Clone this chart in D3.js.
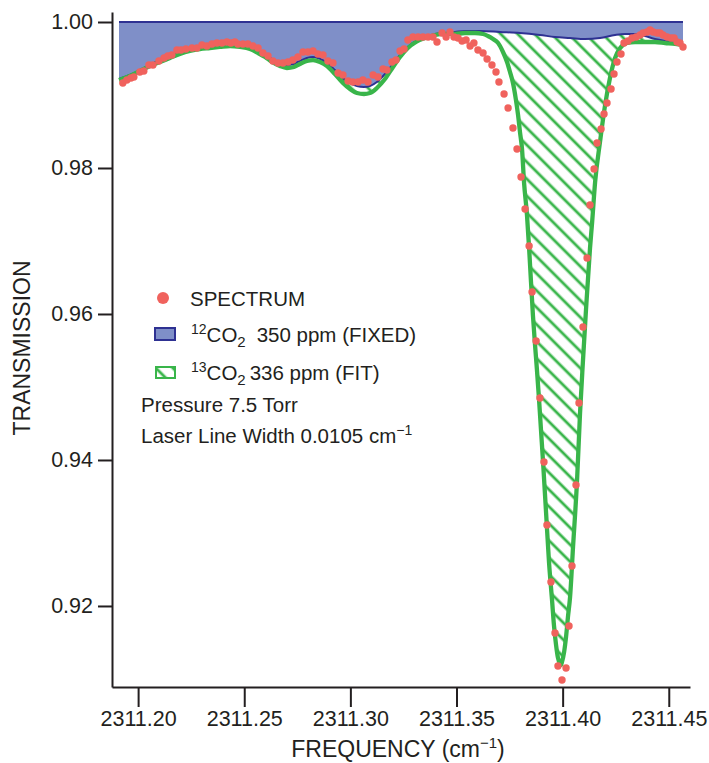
<!DOCTYPE html>
<html>
<head>
<meta charset="utf-8">
<script src="https://cdn.jsdelivr.net/npm/d3@7"></script>
<style>
  body { margin: 0; background: #fff; }
  text { font-family: "Liberation Sans", Arial, Helvetica, sans-serif; fill: #231f20; }
</style>
</head>
<body>
<div id="viz"></div>
<script>
// tick labels
const freqTicks = [2311.20, 2311.25, 2311.30, 2311.35, 2311.40, 2311.45];
const transTicks = [0.92, 0.94, 0.96, 0.98, 1.00];

// measured spectrum (red dots)
const spectrumFreq = [
  2311.1928, 2311.1947, 2311.1966, 2311.1980, 2311.2008, 2311.2027, 2311.2051, 2311.2070, 2311.2098, 2311.2122,
  2311.2140, 2311.2159, 2311.2183, 2311.2202, 2311.2225, 2311.2254, 2311.2277, 2311.2301, 2311.2324, 2311.2348,
  2311.2371, 2311.2395, 2311.2418, 2311.2437, 2311.2456, 2311.2470, 2311.2494, 2311.2517, 2311.2541, 2311.2565,
  2311.2588, 2311.2612, 2311.2635, 2311.2659, 2311.2682, 2311.2706, 2311.2729, 2311.2753, 2311.2777, 2311.2800,
  2311.2824, 2311.2847, 2311.2871, 2311.2894, 2311.2918, 2311.2942, 2311.2965, 2311.2989, 2311.3012, 2311.3036,
  2311.3059, 2311.3083, 2311.3107, 2311.3130, 2311.3154, 2311.3172, 2311.3196, 2311.3215, 2311.3234, 2311.3253,
  2311.3271, 2311.3295, 2311.3319, 2311.3342, 2311.3366, 2311.3389, 2311.3408, 2311.3432, 2311.3451, 2311.3469,
  2311.3488, 2311.3507, 2311.3526, 2311.3545, 2311.3564, 2311.3582, 2311.3601, 2311.3625, 2311.3644, 2311.3667,
  2311.3686, 2311.3700, 2311.3724, 2311.3743, 2311.3766, 2311.3785, 2311.3804, 2311.3823, 2311.3842, 2311.3856,
  2311.3875, 2311.3893, 2311.3912, 2311.3926, 2311.3945, 2311.3964, 2311.3978, 2311.3997, 2311.4016, 2311.4030,
  2311.4044, 2311.4063, 2311.4077, 2311.4096, 2311.4115, 2311.4129, 2311.4148, 2311.4162, 2311.4181, 2311.4195,
  2311.4209, 2311.4228, 2311.4242, 2311.4256, 2311.4275, 2311.4289, 2311.4308, 2311.4327, 2311.4346, 2311.4365,
  2311.4379, 2311.4398, 2311.4412, 2311.4426, 2311.4445, 2311.4459, 2311.4473, 2311.4492, 2311.4511, 2311.4525,
  2311.4539, 2311.4553, 2311.4567
];
const spectrumTrans = [
  0.99164, 0.99205, 0.99233, 0.99247, 0.99315, 0.99329, 0.99411, 0.99411, 0.99466, 0.99507,
  0.99534, 0.99548, 0.99616, 0.99616, 0.99630, 0.99644, 0.99644, 0.99685, 0.99671, 0.99699,
  0.99712, 0.99712, 0.99726, 0.99712, 0.99726, 0.99699, 0.99699, 0.99699, 0.99671, 0.99644,
  0.99575, 0.99534, 0.99466, 0.99438, 0.99438, 0.99452, 0.99479, 0.99521, 0.99589, 0.99589,
  0.99603, 0.99562, 0.99548, 0.99466, 0.99438, 0.99301, 0.99274, 0.99192, 0.99178, 0.99178,
  0.99205, 0.99178, 0.99274, 0.99247, 0.99356, 0.99342, 0.99452, 0.99479, 0.99603, 0.99630,
  0.99753, 0.99795, 0.99795, 0.99795, 0.99795, 0.99795, 0.99726, 0.99849, 0.99795, 0.99863,
  0.99795, 0.99781, 0.99740, 0.99753, 0.99671, 0.99712, 0.99616, 0.99575, 0.99493, 0.99411,
  0.99315, 0.99178, 0.99014, 0.98822, 0.98548, 0.98260, 0.97877, 0.97438, 0.96932, 0.96301,
  0.95630, 0.94849, 0.93973, 0.93110, 0.92329, 0.91630, 0.91178, 0.90986, 0.91151, 0.91726,
  0.92548, 0.93658, 0.94781, 0.95822, 0.96767, 0.97493, 0.97986, 0.98342, 0.98534, 0.98740,
  0.98890, 0.99082, 0.99288, 0.99452, 0.99562, 0.99712, 0.99740, 0.99781, 0.99795, 0.99822,
  0.99849, 0.99863, 0.99890, 0.99863, 0.99849, 0.99849, 0.99822, 0.99795, 0.99781, 0.99781,
  0.99726, 0.99712, 0.99658
];

// 12CO2 350 ppm (fixed) model
const co12Freq = [
  2311.1910, 2311.1961, 2311.2008, 2311.2056, 2311.2103, 2311.2150, 2311.2197, 2311.2244, 2311.2291, 2311.2338,
  2311.2385, 2311.2433, 2311.2480, 2311.2527, 2311.2565, 2311.2598, 2311.2631, 2311.2668, 2311.2701, 2311.2734,
  2311.2762, 2311.2795, 2311.2824, 2311.2857, 2311.2890, 2311.2927, 2311.2965, 2311.2998, 2311.3031, 2311.3064,
  2311.3092, 2311.3125, 2311.3163, 2311.3201, 2311.3234, 2311.3271, 2311.3309, 2311.3352, 2311.3399, 2311.3446,
  2311.3493, 2311.3540, 2311.3611, 2311.3705, 2311.3799, 2311.3893, 2311.3964, 2311.4035, 2311.4106, 2311.4176,
  2311.4247, 2311.4294, 2311.4341, 2311.4388, 2311.4435, 2311.4483, 2311.4530, 2311.4567
];
const co12Trans = [
  0.99219, 0.99274, 0.99342, 0.99411, 0.99479, 0.99534, 0.99589, 0.99616, 0.99644, 0.99658,
  0.99671, 0.99685, 0.99671, 0.99644, 0.99603, 0.99548, 0.99493, 0.99438, 0.99411, 0.99425,
  0.99466, 0.99507, 0.99521, 0.99493, 0.99438, 0.99342, 0.99233, 0.99164, 0.99123, 0.99110,
  0.99123, 0.99178, 0.99288, 0.99425, 0.99548, 0.99658, 0.99740, 0.99795, 0.99836, 0.99849,
  0.99863, 0.99877, 0.99877, 0.99863, 0.99849, 0.99822, 0.99795, 0.99781, 0.99767, 0.99781,
  0.99822, 0.99836, 0.99836, 0.99808, 0.99767, 0.99740, 0.99712, 0.99685
];

// 12CO2 + 13CO2 336 ppm (fit) model
const fitFreq = [
  2311.1910, 2311.1961, 2311.2008, 2311.2056, 2311.2103, 2311.2150, 2311.2197, 2311.2244, 2311.2291, 2311.2338,
  2311.2385, 2311.2433, 2311.2480, 2311.2527, 2311.2565, 2311.2598, 2311.2631, 2311.2668, 2311.2701, 2311.2734,
  2311.2762, 2311.2795, 2311.2824, 2311.2857, 2311.2890, 2311.2927, 2311.2965, 2311.2998, 2311.3031, 2311.3064,
  2311.3092, 2311.3125, 2311.3163, 2311.3201, 2311.3234, 2311.3271, 2311.3309, 2311.3352, 2311.3399, 2311.3446,
  2311.3493, 2311.3540, 2311.3587, 2311.3625, 2311.3648, 2311.3672, 2311.3696, 2311.3719, 2311.3738, 2311.3752,
  2311.3766, 2311.3780, 2311.3790, 2311.3799, 2311.3809, 2311.3818, 2311.3832, 2311.3842, 2311.3851, 2311.3860,
  2311.3870, 2311.3879, 2311.3889, 2311.3898, 2311.3908, 2311.3922, 2311.3936, 2311.3950, 2311.3959, 2311.3969,
  2311.3978, 2311.3988, 2311.3992, 2311.3997, 2311.4007, 2311.4016, 2311.4025, 2311.4035, 2311.4049, 2311.4068,
  2311.4082, 2311.4096, 2311.4110, 2311.4129, 2311.4139, 2311.4153, 2311.4176, 2311.4200, 2311.4223, 2311.4247,
  2311.4271, 2311.4303, 2311.4341, 2311.4388, 2311.4435, 2311.4483, 2311.4530, 2311.4567
];
const fitTrans = [
  0.99205, 0.99260, 0.99329, 0.99397, 0.99452, 0.99507, 0.99562, 0.99603, 0.99630, 0.99644,
  0.99658, 0.99671, 0.99658, 0.99630, 0.99575, 0.99521, 0.99452, 0.99397, 0.99370, 0.99384,
  0.99425, 0.99466, 0.99479, 0.99452, 0.99397, 0.99288, 0.99164, 0.99082, 0.99027, 0.99014,
  0.99027, 0.99096, 0.99219, 0.99384, 0.99521, 0.99644, 0.99726, 0.99781, 0.99822, 0.99836,
  0.99836, 0.99849, 0.99849, 0.99836, 0.99808, 0.99767, 0.99712, 0.99589, 0.99452, 0.99315,
  0.99164, 0.98932, 0.98726, 0.98493, 0.98247, 0.97808, 0.97356, 0.96904, 0.96438, 0.95986,
  0.95575, 0.95233, 0.94822, 0.94411, 0.93959, 0.93274, 0.92589, 0.92082, 0.91740, 0.91466,
  0.91288, 0.91205, 0.91192, 0.91233, 0.91370, 0.91575, 0.91849, 0.92123, 0.92808, 0.93726,
  0.94644, 0.95370, 0.96055, 0.96904, 0.97260, 0.97808, 0.98356, 0.98863, 0.99233, 0.99507,
  0.99644, 0.99712, 0.99726, 0.99726, 0.99726, 0.99712, 0.99699, 0.99685
];

const spectrum = spectrumFreq.map((f, i) => ({ f: f, t: spectrumTrans[i] }));
const co12 = co12Freq.map((f, i) => ({ f: f, t: co12Trans[i] }));
const fit = fitFreq.map((f, i) => ({ f: f, t: fitTrans[i] }));

const width = 709,
  height = 763;

const BLUE = "#2e3192",
  BLUE_FILL = "#7f8fc8",
  GREEN = "#39b54a",
  RED = "#f0625d",
  INK = "#231f20";

const svg = d3
  .select("#viz")
  .append("svg")
  .attr("width", width)
  .attr("height", height);

const xScale = d3.scaleLinear().domain([2311.1877, 2311.4600]).range([112, 690]);
const yScale = d3.scaleLinear().domain([0.9089, 1.00137]).range([687, 12]);

// hatch pattern
svg
  .append("defs")
  .append("pattern")
  .attr("id", "hatch")
  .attr("patternUnits", "userSpaceOnUse")
  .attr("width", 12)
  .attr("height", 12)
  .attr("patternTransform", "rotate(-45)")
  .append("line")
  .attr("x1", 6)
  .attr("x2", 6)
  .attr("y1", 0)
  .attr("y2", 12)
  .attr("stroke", GREEN)
  .attr("stroke-width", 2.8);

const curve = d3.curveMonotoneX;

// 13CO2 hatch: from 1.00 down to fit curve, blue covers the upper part
svg
  .append("path")
  .datum(fit)
  .attr("fill", "url(#hatch)")
  .attr("d", d3.area().curve(curve).x(d => xScale(d.f)).y0(yScale(1)).y1(d => yScale(d.t)));

svg
  .append("path")
  .datum(co12)
  .attr("fill", BLUE_FILL)
  .attr("d", d3.area().curve(curve).x(d => xScale(d.f)).y0(yScale(1)).y1(d => yScale(d.t)));

// 1.00 baseline of the blue block
svg
  .append("line")
  .attr("x1", xScale(co12Freq[0]))
  .attr("x2", xScale(co12Freq[co12Freq.length - 1]))
  .attr("y1", yScale(1))
  .attr("y2", yScale(1))
  .attr("stroke", BLUE)
  .attr("stroke-width", 2);

svg
  .append("path")
  .datum(co12)
  .attr("fill", "none")
  .attr("stroke", BLUE)
  .attr("stroke-width", 2)
  .attr("d", d3.line().curve(curve).x(d => xScale(d.f)).y(d => yScale(d.t)));

svg
  .append("path")
  .datum(fit)
  .attr("fill", "none")
  .attr("stroke", GREEN)
  .attr("stroke-width", 4.3)
  .attr("stroke-linejoin", "round")
  .attr("d", d3.line().curve(curve).x(d => xScale(d.f)).y(d => yScale(d.t)));

svg
  .selectAll("circle.spec")
  .data(spectrum)
  .enter()
  .append("circle")
  .attr("class", "spec")
  .attr("cx", d => xScale(d.f))
  .attr("cy", d => yScale(d.t))
  .attr("r", 3.7)
  .attr("fill", RED);

// AXES
const xAxis = d3
  .axisBottom(xScale)
  .tickValues(freqTicks)
  .tickFormat(d3.format(".2f"))
  .tickSize(20)
  .tickSizeOuter(0)
  .tickPadding(4);

const yAxis = d3
  .axisLeft(yScale)
  .tickValues(transTicks)
  .tickFormat(d3.format(".2f"))
  .tickSize(14)
  .tickSizeOuter(0)
  .tickPadding(5);

const gx = svg.append("g").attr("transform", "translate(0,687)").call(xAxis);
const gy = svg.append("g").attr("transform", "translate(112,0)").call(yAxis);

[gx, gy].forEach(g => {
  g.selectAll("path, line").attr("stroke", INK).attr("stroke-width", 2);
  g.selectAll("text")
    .attr("font-size", 21.5)
    .attr("font-family", "Liberation Sans, Arial, sans-serif")
    .attr("fill", INK);
});

// axis titles
const xt = svg
  .append("text")
  .attr("x", 398)
  .attr("y", 757)
  .attr("text-anchor", "middle")
  .attr("font-size", 23);
xt.append("tspan").text("FREQUENCY (cm");
xt.append("tspan").attr("font-size", 15).attr("dy", -9).text("\u22121");
xt.append("tspan").attr("dy", 9).text(")");

svg
  .append("text")
  .attr("transform", "translate(30,348) rotate(-90)")
  .attr("text-anchor", "middle")
  .attr("font-size", 23)
  .text("TRANSMISSION");

// LEGEND
const legend = svg.append("g").attr("font-size", 20.5);

legend.append("circle").attr("cx", 163).attr("cy", 298).attr("r", 6).attr("fill", RED);
legend.append("text").attr("x", 190).attr("y", 306).text("SPECTRUM");

legend
  .append("rect")
  .attr("x", 155).attr("y", 328).attr("width", 20).attr("height", 12)
  .attr("fill", BLUE_FILL).attr("stroke", BLUE).attr("stroke-width", 2);
const t12 = legend.append("text").attr("x", 191).attr("y", 342);
t12.append("tspan").attr("font-size", 14).attr("dy", -8).text("12");
t12.append("tspan").attr("dy", 8).text("CO");
t12.append("tspan").attr("font-size", 15).attr("dy", 5).text("2");
t12.append("tspan").attr("dy", -5).attr("dx", 11).text("350 ppm (FIXED)");

legend
  .append("rect")
  .attr("x", 156).attr("y", 367).attr("width", 19).attr("height", 11)
  .attr("fill", "url(#hatch)").attr("stroke", GREEN).attr("stroke-width", 2);
const t13 = legend.append("text").attr("x", 191).attr("y", 380);
t13.append("tspan").attr("font-size", 14).attr("dy", -8).text("13");
t13.append("tspan").attr("dy", 8).text("CO");
t13.append("tspan").attr("font-size", 15).attr("dy", 5).text("2");
t13.append("tspan").attr("dy", -5).attr("dx", 4).text("336 ppm (FIT)");

legend.append("text").attr("x", 141).attr("y", 412).text("Pressure 7.5 Torr");
const tl = legend.append("text").attr("x", 141).attr("y", 443);
tl.append("tspan").text("Laser Line Width 0.0105 cm");
tl.append("tspan").attr("font-size", 14).attr("dy", -8).text("\u22121");
</script>
</body>
</html>
